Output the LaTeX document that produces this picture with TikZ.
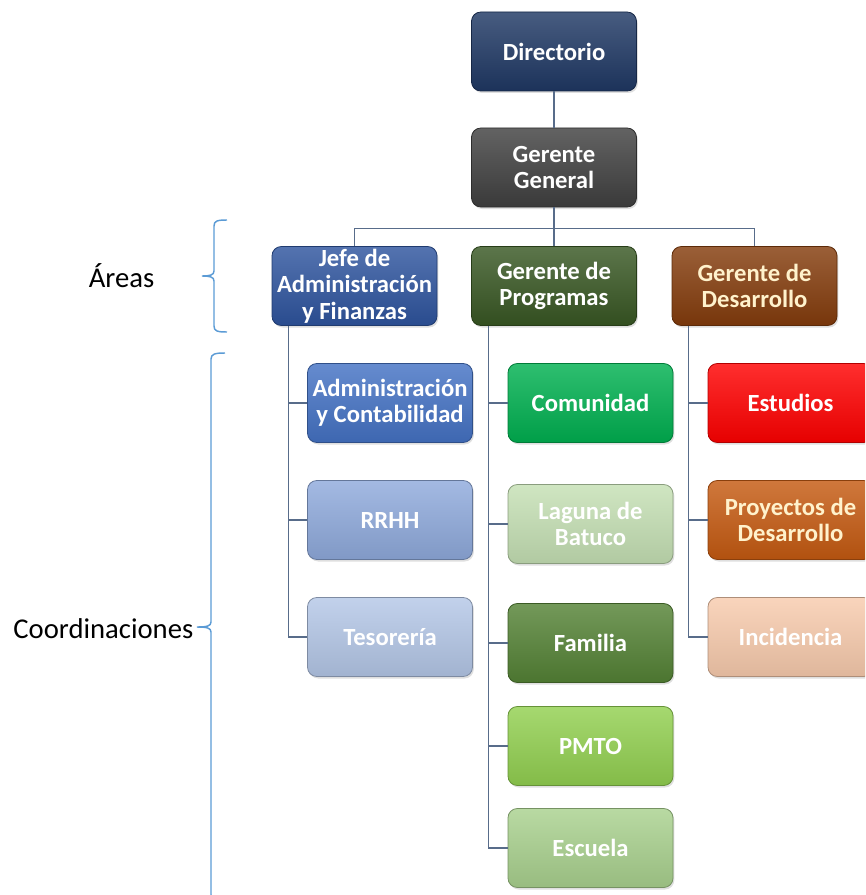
\documentclass[tikz,border=0pt]{standalone}
\usepackage{fontspec}
\setmainfont{Carlito}
\usetikzlibrary{shadows}

\definecolor{cDir}{RGB}{31,56,100}
\definecolor{cGer}{RGB}{64,64,64}
\definecolor{cJefe}{RGB}{46,84,158}
\definecolor{cProg}{RGB}{56,87,35}
\definecolor{cDesa}{RGB}{132,60,12}
\definecolor{cAdm}{RGB}{68,114,196}
\definecolor{cRrhh}{RGB}{143,170,220}
\definecolor{cTes}{RGB}{180,199,231}
\definecolor{cCom}{RGB}{0,176,80}
\definecolor{cLag}{RGB}{197,224,180}
\definecolor{cFam}{RGB}{84,130,53}
\definecolor{cPmto}{RGB}{146,208,80}
\definecolor{cEsc}{RGB}{169,209,142}
\definecolor{cEst}{RGB}{255,0,0}
\definecolor{cProy}{RGB}{197,90,17}
\definecolor{cInc}{RGB}{248,203,173}
\definecolor{cCream}{RGB}{255,242,204}
\definecolor{cLine}{RGB}{88,108,138}
\definecolor{cBrace}{RGB}{91,155,213}

\begin{document}
\begin{tikzpicture}[x=0.75pt,y=0.75pt,yscale=-1,xscale=1,
  orgbox/.style={rectangle, rounded corners=7pt, minimum width=123.75pt, minimum height=59.25pt, inner sep=1pt, align=center, text=white, font=\bfseries\fontsize{18.5}{19.9}\selectfont, top color=#1!82!white, bottom color=#1!90!black, draw=#1!70!black, line width=0.6pt, drop shadow={opacity=0.25, shadow xshift=1pt, shadow yshift=-1.5pt}},
  conn/.style={draw=cLine, line width=0.9pt},
  curly/.style={draw=cBrace, line width=1.1pt},
  sidelabel/.style={font=\fontsize{21.5}{24}\selectfont, text=black}]
\useasboundingbox (0,0) rectangle (865,895);
\clip (0,0) rectangle (865,895);

% Text Node
\node[orgbox=cDir] (dir) at (554,51.5) {Directorio};
\node[orgbox=cGer] (gg) at (554,167.5) {Gerente\\General};
% Text Node
\node[orgbox=cJefe] (jefe) at (354.5,286) {Jefe de\\Administración\\y Finanzas};
\node[orgbox=cProg] (prog) at (554,286) {Gerente de\\Programas};
\node[orgbox=cDesa, text=cCream] (desa) at (754.5,286) {Gerente de\\Desarrollo};
% Text Node
\node[orgbox=cAdm] (adm) at (390,403) {Administración\\y Contabilidad};
\node[orgbox=cRrhh] (rrhh) at (390,520) {RRHH};
\node[orgbox=cTes] (tes) at (390,637) {Tesorería};
% Text Node
\node[orgbox=cCom] (com) at (590.5,403) {Comunidad};
\node[orgbox=cLag] (lag) at (590.5,524) {Laguna de\\Batuco};
\node[orgbox=cFam] (fam) at (590.5,643) {Familia};
\node[orgbox=cPmto] (pmto) at (590.5,746) {PMTO};
\node[orgbox=cEsc] (esc) at (590.5,848) {Escuela};
% Text Node
\node[orgbox=cEst] (est) at (790.5,403) {Estudios};
\node[orgbox=cProy, text=cCream] (proy) at (790.5,520) {Proyectos de\\Desarrollo};
\node[orgbox=cInc] (inc) at (790.5,637) {Incidencia};

% Connection
\draw[conn] (dir) -- (gg);
\draw[conn] (gg.south) -- ++(0,21) coordinate (bar);
\draw[conn] (jefe.north) |- (bar) -| (desa.north);
\draw[conn] (bar) -- (prog.north);
% Connection
\foreach \c in {adm,rrhh,tes}
  \draw[conn] (jefe.south west) ++(17,0) |- (\c.west);
\foreach \c in {com,lag,fam,pmto,esc}
  \draw[conn] (prog.south west) ++(17,0) |- (\c.west);
\foreach \c in {est,proy,inc}
  \draw[conn] (desa.south west) ++(17,0) |- (\c.west);

% Text Node
\draw[curly] (227,220) .. controls (217,220) and (214,221) .. (214,226) -- (214,271) .. controls (214,275) and (210,276) .. (202,276) .. controls (210,276) and (214,277) .. (214,281) -- (214,326) .. controls (214,331) and (217,332) .. (227,332);
\node[sidelabel, anchor=east] (areas) at (159,276) {Áreas};
% Text Node
\draw[curly] (225,353) .. controls (215,353) and (211,354) .. (211,359) -- (211,622) .. controls (211,626) and (207,627) .. (197,627) .. controls (207,627) and (211,628) .. (211,632) -- (211,895) .. controls (211,900) and (215,901) .. (225,901);
\node[sidelabel, anchor=east] (coord) at (198,629) {Coordinaciones};

\end{tikzpicture}
\end{document}
